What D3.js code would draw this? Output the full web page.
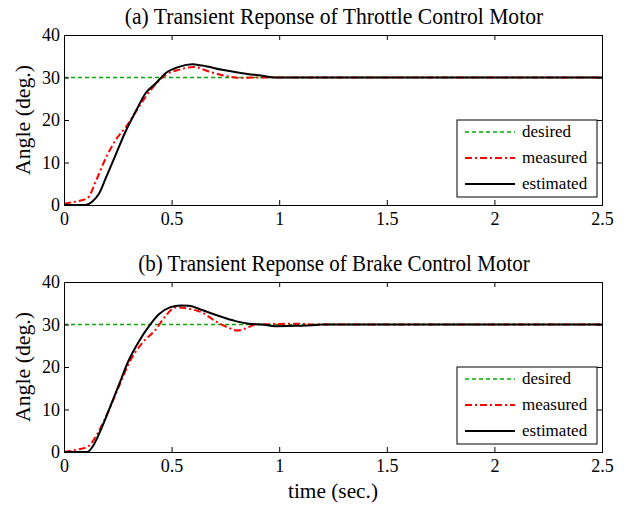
<!DOCTYPE html>
<html>
<head>
<meta charset="utf-8">
<script src="https://cdn.jsdelivr.net/npm/d3@7"></script>
<style>
  body { margin: 0; background: #fff; }
  svg text { font-family: "Liberation Serif", "DejaVu Serif", serif; fill: #000; }
</style>
</head>
<body>
<svg id="chart" width="634" height="506"></svg>
<script>
var timeTicks = [0, 0.5, 1, 1.5, 2, 2.5];
var angleTicks = [0, 10, 20, 30, 40];
var desiredAngle = 30;
var legendLabels = ["desired", "measured", "estimated"];

// [time, angle]
var throttleMeasured = [[0,0.3],[0.054,0.8],[0.109,1.6],[0.147,5.5],[0.194,11],[0.24,15.3],[0.294,18.8],
  [0.348,23.1],[0.41,27.5],[0.472,30.6],[0.534,31.8],[0.604,32.5],[0.673,31.4],[0.75,30.4],
  [0.812,29.9],[0.88,30],[1,30],[2.5,30]];
var throttleEstimated = [[0,0],[0.1,0],[0.132,0.8],[0.163,2.7],[0.194,6.3],[0.24,11.8],[0.286,17.3],
  [0.333,22],[0.379,26.3],[0.426,28.6],[0.472,31],[0.534,32.5],[0.596,33.1],[0.642,32.8],
  [0.735,31.8],[0.828,31],[0.921,30.4],[0.98,30],[2.5,30]];
var brakeMeasured = [[0,0],[0.054,0.5],[0.109,1.2],[0.155,4.3],[0.209,9.9],[0.255,15.4],[0.302,20.9],
  [0.364,25.7],[0.426,28.8],[0.472,32],[0.519,34],[0.58,33.7],[0.642,32.8],[0.704,30.8],
  [0.766,29.2],[0.805,28.6],[0.851,29.2],[0.89,30],[0.98,30.1],[1.075,30.2],[1.17,30],[2.5,30]];
var brakeEstimated = [[0,0],[0.109,0],[0.132,1.2],[0.163,4.3],[0.209,9.9],[0.255,15.8],[0.302,21.7],
  [0.348,26],[0.395,29.6],[0.441,32.4],[0.495,34.1],[0.542,34.5],[0.58,34.4],[0.642,33.4],
  [0.72,32],[0.797,30.8],[0.859,30.2],[0.921,30],[0.983,29.6],[1.075,29.7],[1.17,29.9],[1.2,30],[2.5,30]];

var svg = d3.select("#chart");

var x = d3.scaleLinear().domain([0, 2.5]).range([64, 602]);

function drawPanel(top, bottom, title, measured, estimated) {
  var y = d3.scaleLinear().domain([0, 40]).range([bottom, top]);
  var g = svg.append("g");

  var line = d3.line()
      .x(function(d) { return x(d[0]); })
      .y(function(d) { return y(d[1]); })
      .curve(d3.curveMonotoneX);

  g.append("line")
      .attr("x1", x(0)).attr("x2", x(2.5))
      .attr("y1", y(desiredAngle)).attr("y2", y(desiredAngle))
      .attr("stroke", "rgb(0,170,0)")
      .attr("stroke-width", 1.3)
      .attr("stroke-dasharray", "4,3");

  g.append("path")
      .datum(measured)
      .attr("d", line)
      .attr("fill", "none")
      .attr("stroke", "#ff0000")
      .attr("stroke-width", 2)
      .attr("stroke-dasharray", "7,3,2,3");

  g.append("path")
      .datum(estimated)
      .attr("d", line)
      .attr("fill", "none")
      .attr("stroke", "#000")
      .attr("stroke-width", 2);

  // axes with inward ticks on all four sides
  var bx = g.append("g").attr("transform", "translate(0," + bottom + ")")
      .call(d3.axisBottom(x).tickValues(timeTicks).tickFormat(d3.format("")).tickSize(-5).tickPadding(7));
  var tx = g.append("g").attr("transform", "translate(0," + top + ")")
      .call(d3.axisTop(x).tickValues(timeTicks).tickSize(-5).tickFormat(""));
  var ly = g.append("g").attr("transform", "translate(" + x(0) + ",0)")
      .call(d3.axisLeft(y).tickValues(angleTicks).tickSize(-5).tickPadding(4));
  var ry = g.append("g").attr("transform", "translate(" + x(2.5) + ",0)")
      .call(d3.axisRight(y).tickValues(angleTicks).tickSize(-5).tickFormat(""));

  [bx, tx, ly, ry].forEach(function(a) {
    a.select(".domain").attr("stroke", "#000").attr("stroke-width", 1);
    a.selectAll(".tick line").attr("stroke", "#000");
    a.selectAll(".tick text").attr("font-size", 18).attr("font-family", "Liberation Serif");
  });

  g.append("text")
      .attr("x", 334)
      .attr("y", top - 11)
      .attr("text-anchor", "middle")
      .attr("font-size", 23)
      .attr("textLength", title.length * 8.9)
      .attr("lengthAdjust", "spacingAndGlyphs")
      .text(title);

  g.append("text")
      .attr("transform", "translate(30," + ((top + bottom) / 2) + ") rotate(-90)")
      .attr("text-anchor", "middle")
      .attr("font-size", 22)
      .attr("textLength", 110)
      .attr("lengthAdjust", "spacingAndGlyphs")
      .text("Angle (deg.)");

  // legend
  var lg = g.append("g").attr("transform", "translate(457," + (top + 85) + ")");
  lg.append("rect")
      .attr("width", 140)
      .attr("height", 77)
      .attr("fill", "#fff")
      .attr("stroke", "#000");
  var styles = [
    { color: "rgb(0,170,0)", width: 1.3, dash: "4,3" },
    { color: "#ff0000", width: 2, dash: "7,3,2,3" },
    { color: "#000", width: 2, dash: null }
  ];
  legendLabels.forEach(function(label, i) {
    var ly0 = 12 + i * 26;
    lg.append("line")
        .attr("x1", 8).attr("x2", 58)
        .attr("y1", ly0).attr("y2", ly0)
        .attr("stroke", styles[i].color)
        .attr("stroke-width", styles[i].width)
        .attr("stroke-dasharray", styles[i].dash);
    lg.append("text")
        .attr("x", 65)
        .attr("y", ly0 + 5)
        .attr("font-size", 17)
        .text(label);
  });
}

drawPanel(35, 205, "(a) Transient Reponse of Throttle Control Motor", throttleMeasured, throttleEstimated);
drawPanel(282, 452, "(b) Transient Reponse of Brake Control Motor", brakeMeasured, brakeEstimated);

svg.append("text")
    .attr("x", 333)
    .attr("y", 498)
    .attr("text-anchor", "middle")
    .attr("font-size", 22)
    .attr("textLength", 90)
    .attr("lengthAdjust", "spacingAndGlyphs")
    .text("time (sec.)");
</script>
</body>
</html>
